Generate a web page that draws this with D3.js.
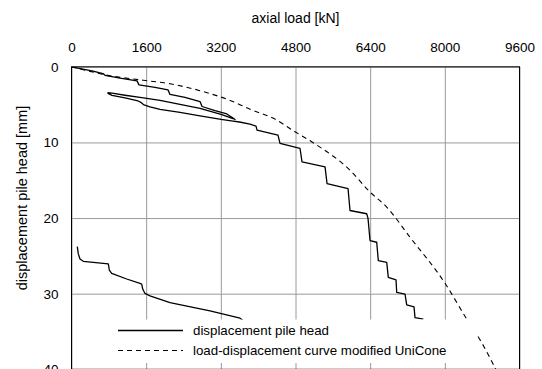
<!DOCTYPE html>
<html>
<head>
<meta charset="utf-8">
<script src="https://cdn.jsdelivr.net/npm/d3@7"></script>
<style>
  html, body { margin: 0; padding: 0; background: #fff; }
  svg { display: block; font-family: "Liberation Sans", Arial, sans-serif; }
</style>
</head>
<body>
<svg id="chart" width="542" height="369"></svg>
<script>
// Axis ticks
const loadTicks = [0, 1600, 3200, 4800, 6400, 8000, 9600];
const dispTicks = [0, 10, 20, 30, 40];

// Measured pile head displacement: first loading, unload/reload loop, further loading (kN, mm)
const headLoad1 = [0, 182, 439, 675, 718, 1039, 1404, 1446, 1789, 2068, 2111, 2432, 2754, 2797, 3075, 3311, 3461, 3504,
  3461, 3204, 2754, 2325, 1897, 1468, 1146, 868, 782,
  782, 868, 1146, 1425, 1489, 1554, 1682, 1897, 2325, 2754, 3204, 3461,
  3600, 3825, 3954, 3975, 4425, 4468, 4897, 4940, 5433, 5476, 5926, 5968, 6326, 6354, 6397, 6540, 6575, 6755, 6789,
  6954, 6969, 7147, 7183, 7340, 7361, 7539];
const headDisp1 = [0, 0.23, 0.53, 0.89, 1.13, 1.50, 1.86, 2.39, 2.72, 3.05, 3.65, 4.05, 4.60, 5.25, 5.78, 6.18, 6.77, 6.97,
  6.84, 6.28, 5.51, 4.98, 4.45, 4.05, 3.76, 3.49, 3.43,
  3.52, 3.78, 4.12, 4.52, 4.71, 5.05, 5.31, 5.64, 6.04, 6.48, 6.95, 7.17,
  7.30, 7.57, 7.84, 8.37, 9.03, 10.13, 10.80, 12.58, 13.24, 15.44, 16.10, 19.00, 19.43, 20.05, 22.97, 23.20, 25.63, 25.86, 27.85,
  28.19, 29.84, 30.05, 31.47, 31.74, 33.16, 33.37];

// Measured pile head displacement: second test (kN, mm)
const headLoad2 = [124, 146, 182, 253, 789, 810, 861, 1183, 1468, 1504, 1526, 1575, 1682, 2111, 2968, 3611, 3669];
const headDisp2 = [23.77, 24.74, 25.41, 25.72, 26.07, 26.87, 27.32, 28.06, 28.65, 28.73, 29.39, 29.97, 30.28, 31.17, 32.27, 33.24, 33.51];

// Modified UniCone prediction (kN, mm)
const uniConeLoad = [0, 182, 681, 1539, 2111, 2824, 3467, 3862, 4325, 4790, 5148, 5968, 6397, 6755, 7254, 8004, 8469, 8790, 9075, 9300];
const uniConeDisp = [0, 0.27, 1.02, 1.78, 2.25, 3.28, 4.61, 5.71, 6.81, 8.59, 9.92, 13.68, 16.56, 18.55, 22.54, 28.62, 33.37, 36.48, 39.80, 42.6];

const seriesNames = ["displacement pile head", "load-displacement curve modified UniCone"];

const svg = d3.select("#chart");
const pL = 71.5, pR = 519.5, pT = 66.8, pB = 369.3;

const x = d3.scaleLinear().domain([0, 9600]).range([pL, pR]);
const y = d3.scaleLinear().domain([0, 40]).range([pT, pB]);

// Grid + tick labels via axes
const xAxis = d3.axisTop(x).tickValues(loadTicks).tickFormat(d3.format("d"))
  .tickSize(-(pB - pT)).tickPadding(15);
const yAxis = d3.axisLeft(y).tickValues(dispTicks).tickFormat(d3.format("d"))
  .tickSize(-(pR - pL)).tickPadding(13);

const gx = svg.append("g").attr("transform", `translate(0,${pT})`).call(xAxis);
const gy = svg.append("g").attr("transform", `translate(${pL},0)`).call(yAxis);
[gx, gy].forEach(g => {
  g.select(".domain").remove();
  g.selectAll(".tick line").attr("stroke", "#9a9a9a").attr("stroke-width", 1);
  g.selectAll(".tick text").attr("fill", "#000").style("font-size", "13.5px")
    .style("font-family", "'Liberation Sans', Arial, sans-serif");
});

// Plot frame
svg.append("rect")
  .attr("x", pL).attr("y", pT)
  .attr("width", pR - pL).attr("height", pB - pT)
  .attr("fill", "none").attr("stroke", "#000").attr("stroke-width", 1);

svg.append("clipPath").attr("id", "plotclip")
  .append("rect").attr("x", pL).attr("y", pT)
  .attr("width", pR - pL).attr("height", pB - pT);

const zip = (a, b) => a.map((v, i) => [v, b[i]]);
const plot = svg.append("g").attr("clip-path", "url(#plotclip)");

const smoothLine = d3.line().x(d => x(d[0])).y(d => y(d[1])).curve(d3.curveMonotoneX);
plot.append("path")
  .datum(zip(uniConeLoad, uniConeDisp))
  .attr("d", smoothLine)
  .attr("fill", "none").attr("stroke", "#000").attr("stroke-width", 1.1)
  .attr("stroke-dasharray", "5,4");

const stepLine = d3.line().x(d => x(d[0])).y(d => y(d[1]));
[[headLoad1, headDisp1], [headLoad2, headDisp2]].forEach(([l, s]) => {
  plot.append("path")
    .datum(zip(l, s))
    .attr("d", stepLine)
    .attr("fill", "none").attr("stroke", "#000").attr("stroke-width", 1.3)
    .attr("stroke-linejoin", "round");
});

// Legend
const lg = svg.append("g");
lg.append("rect").attr("x", 105).attr("y", 319.5).attr("width", 372).attr("height", 43.5).attr("fill", "#fff");
const legendRows = [{ dash: null, y: 330.5 }, { dash: "5,4", y: 350.5 }];
legendRows.forEach((r, i) => {
  lg.append("line").attr("x1", 118).attr("x2", 183).attr("y1", r.y).attr("y2", r.y)
    .attr("stroke", "#000").attr("stroke-width", i === 0 ? 1.3 : 1.1)
    .attr("stroke-dasharray", r.dash);
  lg.append("text").attr("x", 193).attr("y", r.y).attr("dy", "0.35em")
    .style("font-size", "13.3px").text(seriesNames[i]);
});

// Axis titles
svg.append("text").attr("x", (pL + pR) / 2).attr("y", 23)
  .attr("text-anchor", "middle").style("font-size", "14px").text("axial load [kN]");
svg.append("text")
  .attr("transform", `translate(27,198) rotate(-90)`)
  .attr("text-anchor", "middle").style("font-size", "14.5px").text("displacement pile head [mm]");
</script>
</body>
</html>
